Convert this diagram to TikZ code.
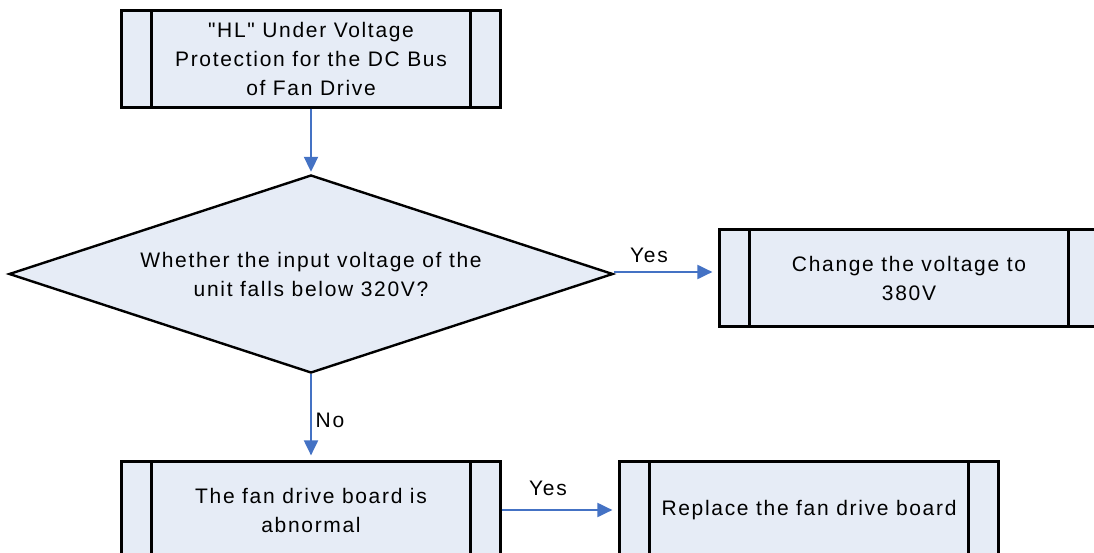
\documentclass[tikz,border=0pt]{standalone}
\usepackage{fontspec}
\setmainfont[LetterSpace=8, Ligatures=TeXOff]{Liberation Sans}
\usetikzlibrary{arrows.meta,positioning,shapes.geometric}
\definecolor{boxfill}{HTML}{E6ECF6}
\definecolor{flowblue}{HTML}{4472C4}

\begin{document}
\begin{tikzpicture}[
  x=1pt, y=-1pt,
  every node/.style={font=\fontsize{21}{29}\selectfont},
  procbox/.style={rectangle, draw, line width=2.2pt, fill=boxfill, align=center, minimum width=379pt, minimum height=97pt, inner sep=0pt,
    path picture={\draw[line width=2.2pt]
      ([xshift=30pt]path picture bounding box.north west) -- ([xshift=30pt]path picture bounding box.south west)
      ([xshift=-30pt]path picture bounding box.north east) -- ([xshift=-30pt]path picture bounding box.south east);}},
  decision/.style={diamond, aspect=3.05, draw, line width=2.4pt, fill=boxfill, align=center, minimum width=604pt, minimum height=198pt, inner sep=0pt},
  flow/.style={draw=flowblue, line width=2pt, -{Triangle[length=15pt,width=14pt]}}
]
\clip (0,0) rectangle (1094,553);

% Cajas
\node[procbox] (start) at (311,59) {"HL" Under Voltage\\Protection for the DC Bus\\of Fan Drive};
\node[decision] (check) at (311,274) {Whether the input voltage of the\\unit falls below 320V?};
\node[procbox] (change) at (909,278) {Change the voltage to\\380V};
\node[procbox] (fault) at (311,510) {The fan drive board is\\abnormal};
\node[procbox] (replace) at (809,510) {Replace the fan drive board};

% Etiquetas
\node (yesup) at (649,255) {Yes};
\node (nolbl) at (330,420) {No};
\node (yesdown) at (548,488) {Yes};

% Conexiones
\draw[flow, shorten >=2pt] (start) -- (check);
\draw[flow, shorten >=6pt] ([yshift=2pt]check.east) -- ([yshift=2pt]check.east -| change.west);
\draw[flow, shorten >=5pt] (check) -- (fault);
\draw[flow, shorten >=6pt] (fault) -- (replace);

\end{tikzpicture}
\end{document}
